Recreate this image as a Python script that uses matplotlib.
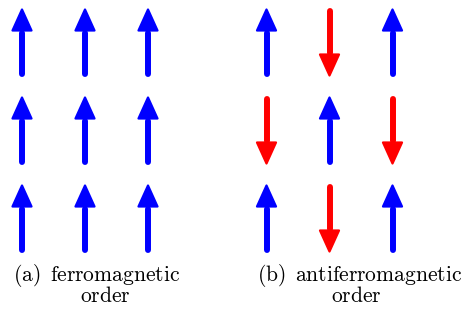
"""Spin arrangements for ferro- and antiferromagnetic order on a 3x3 lattice."""

import matplotlib

matplotlib.use("Agg")
import matplotlib.pyplot as plt
from matplotlib.patches import Polygon

plt.rcParams["mathtext.fontset"] = "cm"

# spin orientation per lattice site (+1 up, -1 down), rows listed top to bottom
ferro_spins = [
    [1, 1, 1],
    [1, 1, 1],
    [1, 1, 1],
]
antiferro_spins = [
    [1, -1, 1],
    [-1, 1, -1],
    [1, -1, 1],
]
labels = [r"$\mathrm{(a)}$", r"$\mathrm{(b)}$"]
captions = [
    (r"$\mathrm{ferromagnetic}$", r"$\mathrm{order}$"),
    (r"$\mathrm{antiferromagnetic}$", r"$\mathrm{order}$"),
]

UP_COLOR = "#0000ff"
DOWN_COLOR = "#ff0000"

# layout in pixels (axes span the whole canvas)
W, H = 470, 320
PANEL_X0 = [22, 266.5]
COL_STEP = 63
ROW_Y = [42.5, 130.5, 218.5]
HALF_LEN = 34.5
HEAD_LEN = 21
HEAD_HALF_W = 9.5
SHAFT_LW = 4.3
FONT_SIZE = 15.5


def draw_spin(ax, x, y, s):
    color = UP_COLOR if s > 0 else DOWN_COLOR
    tip = y - s * (HALF_LEN - 1.5)
    tail = y + s * (HALF_LEN - 3)
    base = tip + s * HEAD_LEN
    ax.plot([x, x], [tail, base + s * 2], color=color, lw=SHAFT_LW,
            solid_capstyle="round")
    head = Polygon([(x, tip), (x - HEAD_HALF_W, base), (x + HEAD_HALF_W, base)],
                   closed=True, facecolor=color, edgecolor=color, lw=1.6,
                   joinstyle="round")
    ax.add_patch(head)


fig = plt.figure(figsize=(W / 100, H / 100), dpi=100)
ax = fig.add_axes([0, 0, 1, 1])
ax.set_xlim(0, W)
ax.set_ylim(H, 0)
ax.axis("off")

for x0, spins in zip(PANEL_X0, [ferro_spins, antiferro_spins]):
    for r, row in enumerate(spins):
        for c, s in enumerate(row):
            draw_spin(ax, x0 + c * COL_STEP, ROW_Y[r], s)

# label x, first-line x, second-line x; baselines of the two caption lines
caption_x = [(13, 50, 80), (257, 295, 331)]
line_y = (281, 302)
for label, (line1, line2), (xl, x1, x2) in zip(labels, captions, caption_x):
    ax.text(xl, line_y[0], label, fontsize=FONT_SIZE, ha="left", va="baseline")
    ax.text(x1, line_y[0], line1, fontsize=FONT_SIZE, ha="left", va="baseline")
    ax.text(x2, line_y[1], line2, fontsize=FONT_SIZE, ha="left", va="baseline")

fig.savefig("out.png", dpi=100)
